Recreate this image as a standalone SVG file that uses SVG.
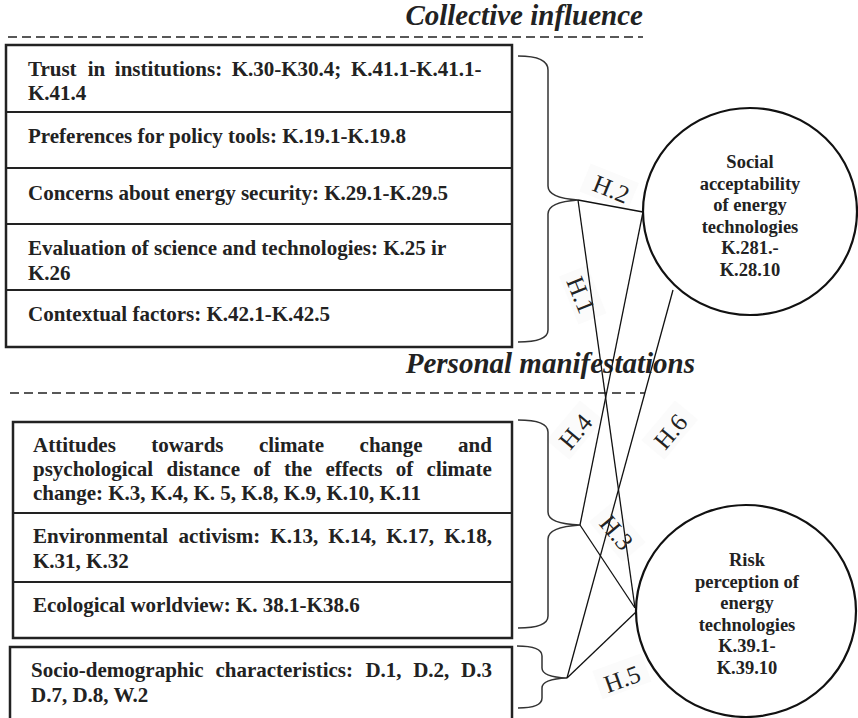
<svg xmlns="http://www.w3.org/2000/svg" width="858" height="718" viewBox="0 0 858 718">
<style>
.t{font-family:"Liberation Serif","Times New Roman",serif;font-weight:bold;font-size:21px;fill:#222}
.c{font-family:"Liberation Serif","Times New Roman",serif;font-weight:bold;font-size:18.5px;fill:#222;text-anchor:middle}
.h{font-family:"Liberation Serif","Times New Roman",serif;font-size:25px;fill:#222;text-anchor:middle}
.ttl{font-family:"Liberation Serif","Times New Roman",serif;font-weight:bold;font-style:italic;font-size:29px;fill:#222;text-anchor:end}
.box{fill:none;stroke:#222;stroke-width:2.5}
.div{stroke:#222;stroke-width:2}
.dash{stroke:#222;stroke-width:1.6;stroke-dasharray:9 5;fill:none}
.brace{fill:none;stroke:#333;stroke-width:1.5}
.ln{stroke:#111;stroke-width:1.3;fill:none}
.circ{fill:#fff;stroke:#111;stroke-width:2.2}
.lbg{fill:#fbfbfb}
</style>
<rect width="858" height="718" fill="#fff"/>

<g id="titles">
<text class="ttl" x="643" y="25">Collective influence</text>
<line class="dash" x1="8" y1="37" x2="643" y2="37"/>
<text class="ttl" x="695" y="373">Personal manifestations</text>
<line class="dash" x1="10" y1="393" x2="645" y2="393"/>
</g>

<g id="label-bg">
<rect class="lbg" x="-26" y="-18" width="52" height="30" transform="translate(608,190) rotate(22)"/>
<rect class="lbg" x="-26" y="-18" width="52" height="30" transform="translate(580,296) rotate(68)"/>
<rect class="lbg" x="-26" y="-18" width="52" height="30" transform="translate(577,432) rotate(-50)"/>
<rect class="lbg" x="-26" y="-18" width="52" height="30" transform="translate(672,432) rotate(-50)"/>
<rect class="lbg" x="-26" y="-18" width="52" height="30" transform="translate(615,534) rotate(50)"/>
<rect class="lbg" x="-26" y="-18" width="52" height="30" transform="translate(623,679) rotate(-20)"/>
</g>

<g id="collective-box">
<rect class="box" x="6" y="45" width="506" height="302"/>
<line class="div" x1="6" y1="112" x2="512" y2="112"/>
<line class="div" x1="6" y1="168" x2="512" y2="168"/>
<line class="div" x1="6" y1="224" x2="512" y2="224"/>
<line class="div" x1="6" y1="290" x2="512" y2="290"/>
</g>
<g id="trust">
<text class="t" y="76"><tspan x="28">Trust</tspan><tspan x="87.7">in</tspan><tspan x="114.8">institutions:</tspan><tspan x="231.7">K.30-K30.4;</tspan><tspan x="350.9">K.41.1-K.41.1-</tspan></text>
<text class="t" x="28" y="100">K.41.4</text>
</g>
<g id="preferences">
<text class="t" x="28" y="143">Preferences for policy tools: K.19.1-K.19.8</text>
</g>
<g id="concerns">
<text class="t" x="28" y="200">Concerns about energy security: K.29.1-K.29.5</text>
</g>
<g id="evaluation">
<text class="t" x="28" y="255">Evaluation of science and technologies: K.25 ir</text>
<text class="t" x="28" y="280">K.26</text>
</g>
<g id="contextual">
<text class="t" x="28" y="321">Contextual factors: K.42.1-K.42.5</text>
</g>

<g id="personal-box">
<rect class="box" x="13" y="422" width="499" height="216"/>
<line class="div" x1="13" y1="513" x2="512" y2="513"/>
<line class="div" x1="13" y1="582" x2="512" y2="582"/>
</g>
<g id="attitudes">
<text class="t" y="452"><tspan x="33">Attitudes</tspan><tspan x="151.2">towards</tspan><tspan x="258.9">climate</tspan><tspan x="359.6">change</tspan><tspan x="458">and</tspan></text>
<text class="t" y="476"><tspan x="33">psychological</tspan><tspan x="166.5">distance</tspan><tspan x="253.3">of</tspan><tspan x="284.1">the</tspan><tspan x="325.4">effects</tspan><tspan x="395.8">of</tspan><tspan x="426.6">climate</tspan></text>
<text class="t" x="33" y="500">change: K.3, K.4, K. 5, K.8, K.9, K.10, K.11</text>
</g>
<g id="activism">
<text class="t" y="543"><tspan x="33">Environmental</tspan><tspan x="178.5">activism:</tspan><tspan x="270.3">K.13,</tspan><tspan x="328.3">K.14,</tspan><tspan x="386.2">K.17,</tspan><tspan x="444.2">K.18,</tspan></text>
<text class="t" x="33" y="568">K.31, K.32</text>
</g>
<g id="worldview">
<text class="t" x="33" y="612">Ecological worldview: K. 38.1-K38.6</text>
</g>

<g id="sociodemographic">
<rect class="box" x="10" y="647" width="502" height="80"/>
<text class="t" y="677"><tspan x="31">Socio-demographic</tspan><tspan x="215.4">characteristics:</tspan><tspan x="365.4">D.1,</tspan><tspan x="413.2">D.2,</tspan><tspan x="461.1">D.3</tspan></text>
<text class="t" x="31" y="702">D.7, D.8, W.2</text>
</g>

<g id="connectors">
<path class="brace" d="M518,56 Q548,56 548,70 L548,186 Q548,198 578,200 Q548,202 548,214 L548,330 Q548,342 518,342"/>
<path class="brace" d="M518,420 Q548,420 548,432 L548,512 Q548,524 580,525 Q548,527 548,539 L548,616 Q548,628 518,628"/>
<path class="brace" d="M517,646 Q542,646 542,656 L542,668 Q542,677 567,678 Q542,679 542,688 L542,698 Q542,708 518,708"/>
<line class="ln" x1="578" y1="200" x2="643" y2="212"/>
<line class="ln" x1="578" y1="200" x2="635" y2="608"/>
<line class="ln" x1="580" y1="525" x2="643" y2="212"/>
<line class="ln" x1="580" y1="525" x2="635" y2="608"/>
<line class="ln" x1="567" y1="678" x2="673" y2="290"/>
<line class="ln" x1="567" y1="678" x2="636" y2="612"/>
</g>

<g id="labels">
<text class="h" transform="translate(608,197) rotate(22)">H.2</text>
<text class="h" transform="translate(573,298) rotate(68)">H.1</text>
<text class="h" transform="translate(582,437) rotate(-50)">H.4</text>
<text class="h" transform="translate(677,437) rotate(-50)">H.6</text>
<text class="h" transform="translate(610,538) rotate(50)">H.3</text>
<text class="h" transform="translate(625,687) rotate(-20)">H.5</text>
</g>

<g id="social-acceptability">
<ellipse class="circ" cx="750" cy="211.5" rx="107" ry="103.5"/>
<text class="c" x="750" y="168">Social</text>
<text class="c" x="750" y="190">acceptability</text>
<text class="c" x="750" y="211">of energy</text>
<text class="c" x="750" y="233">technologies</text>
<text class="c" x="750" y="254">K.281.-</text>
<text class="c" x="750" y="276">K.28.10</text>
</g>

<g id="risk-perception">
<ellipse class="circ" cx="746" cy="611" rx="110" ry="106"/>
<text class="c" x="747" y="566">Risk</text>
<text class="c" x="747" y="588">perception of</text>
<text class="c" x="747" y="609">energy</text>
<text class="c" x="747" y="631">technologies</text>
<text class="c" x="747" y="652">K.39.1-</text>
<text class="c" x="747" y="674">K.39.10</text>
</g>
</svg>
